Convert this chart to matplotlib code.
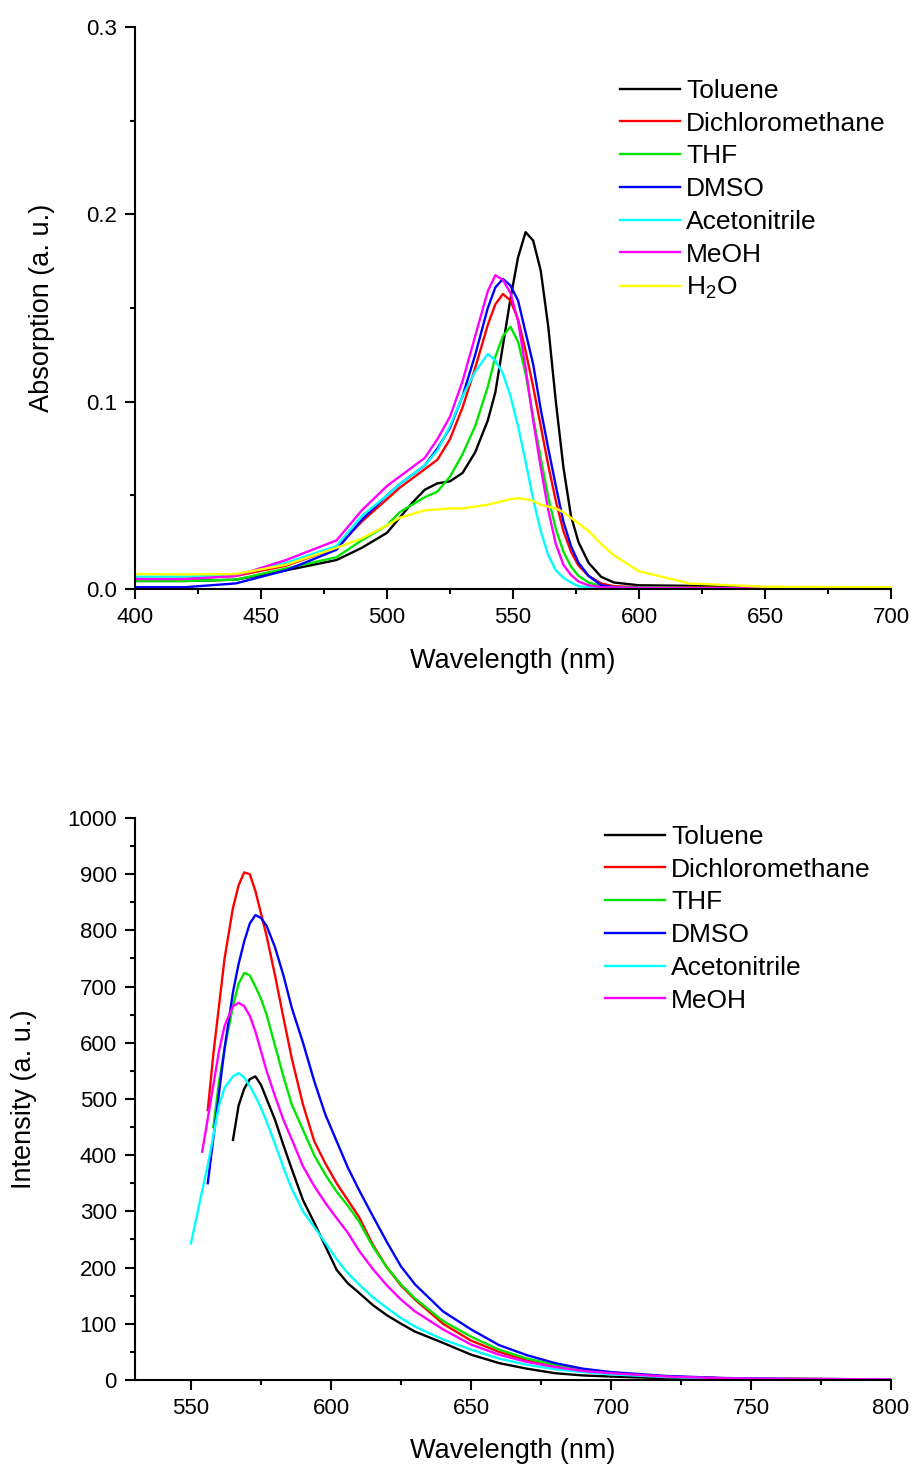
import numpy as np
import matplotlib
matplotlib.use("Agg")
import matplotlib.pyplot as plt
from matplotlib.ticker import MultipleLocator, FormatStrFormatter

plt.rcParams['font.family'] = ['Liberation Sans', 'DejaVu Sans']
plt.rcParams['mathtext.fontset'] = 'custom'
plt.rcParams['mathtext.rm'] = 'Liberation Sans'
plt.rcParams['mathtext.it'] = 'Liberation Sans:italic'

nan = float('nan')

# ---- absorption data ----
abs_wl = [400, 420, 440, 460, 480, 490, 500, 505, 510, 515, 520, 525, 530, 535,
          540, 543, 546, 549, 552, 555, 558, 561, 564, 567, 570, 573, 576, 580,
          585, 590, 600, 620, 650, 700]
abs_toluene = [.0043, .0043, .005, .010, .0155, .022, .030, .038, .046, .053, .0564,
               .0575, .062, .073, .090, .105, .130, .155, .177, .1905, .186, .170,
               .140, .100, .065, .039, .025, .014, .0065, .0035, .002, .0017, .001, .0005]
abs_dcm = [.0055, .0055, .007, .0125, .022, .036, .048, .054, .059, .064, .069,
           .080, .097, .118, .141, .152, .1575, .154, .144, .127, .108, .087,
           .066, .047, .031, .020, .0125, .007, .003, .0015, .001, .0008, .0005, .0003]
abs_thf = [.0043, .0043, .005, .011, .017, .026, .034, .041, .045, .049, .052,
           .060, .072, .087, .108, .124, .135, .140, .132, .115, .092, .070,
           .049, .032, .020, .012, .007, .0035, .0015, .001, .0008, .0006, .0005, .0003]
abs_dmso = [.001, .001, .003, .010, .021, .037, .050, .056, .061, .066, .075,
            .086, .103, .125, .150, .161, .1655, .162, .154, .137, .120, .096,
            .075, .055, .036, .023, .014, .007, .002, .001, .0005, .0004, .0003, .0002]
abs_mecn = [.0066, .0066, .0075, .014, .023, .039, .050, .056, .061, .066, .074,
            .087, .103, .116, .1255, .122, .115, .103, .087, .068, .048, .031,
            .018, .010, .006, .0035, .0015, .001, .0008, .0007, .0006, .0005, .0004, .0003]
abs_meoh = [.0053, .0053, .007, .0155, .026, .042, .055, .060, .065, .070, .080,
            .092, .111, .135, .159, .1675, .165, .158, .143, .118, .090, .065,
            .042, .024, .013, .0075, .004, .002, .001, .0008, .0006, .0005, .0004, .0003]
abs_water = [.008, .0078, .008, .013, .022, .027, .034, .038, .040, .042, .0425,
             .043, .043, .044, .045, .046, .047, .048, .0485, .048, .047, .045,
             .044, .043, .041, .038, .035, .031, .024, .018, .0095, .003, .0012, .001]

# ---- emission data ----
em_wl = [550, 554, 556, 558, 560, 562, 565, 567, 569, 571, 573, 575, 577, 580,
         583, 586, 590, 594, 598, 602, 606, 610, 615, 620, 625, 630, 640, 650,
         660, 670, 680, 690, 700, 720, 740, 760, 780, 800]
em_toluene = [nan, nan, nan, nan, nan, nan, 427, 488, 518, 535, 540, 525, 500, 463,
              418, 375, 320, 280, 238, 196, 172, 155, 133, 115, 100, 86, 66, 45,
              30, 20, 12, 8, 6, 3, 1.5, 1, 1, 0.5]
em_dcm = [nan, nan, 480, 580, 665, 750, 840, 880, 903, 900, 870, 830, 790, 720,
          645, 572, 490, 425, 385, 350, 320, 290, 240, 200, 168, 143, 100, 70,
          50, 35, 25, 17, 12, 6, 3, 2, 1.5, 1]
em_thf = [nan, nan, nan, 450, 530, 590, 665, 705, 724, 720, 700, 678, 650, 595,
          540, 490, 445, 400, 365, 335, 310, 282, 237, 200, 170, 145, 105, 77,
          54, 38, 27, 18, 12, 6, 3, 2, 1.5, 1]
em_dmso = [nan, nan, 350, 430, 510, 590, 690, 740, 780, 812, 827, 822, 808, 770,
           720, 662, 600, 532, 472, 425, 378, 338, 291, 245, 202, 170, 122, 90,
           62, 44, 30, 20, 14, 7, 3.5, 2, 1.5, 1]
em_mecn = [243, 337, 382, 435, 488, 520, 540, 546, 538, 523, 505, 484, 460, 420,
           378, 340, 300, 272, 244, 215, 190, 170, 147, 128, 110, 95, 72, 54,
           38, 27, 19, 14, 10, 5, 2.5, 1.5, 1, 1]
em_meoh = [nan, 406, 465, 525, 585, 630, 665, 671, 665, 648, 620, 585, 550, 505,
           463, 428, 380, 345, 315, 288, 262, 230, 197, 168, 143, 122, 90, 63,
           45, 32, 23, 16, 12, 6, 3, 2, 1.5, 1]

labels = ['Toluene', 'Dichloromethane', 'THF', 'DMSO', 'Acetonitrile', 'MeOH', 'H$_\\mathregular{2}$O']
colors = ['#000000', '#ff0000', '#00e600', '#0000ff', '#00ffff', '#ff00ff', '#ffff00']

abs_series = [abs_toluene, abs_dcm, abs_thf, abs_dmso, abs_mecn, abs_meoh, abs_water]
em_series = [em_toluene, em_dcm, em_thf, em_dmso, em_mecn, em_meoh]

fig = plt.figure(figsize=(9.12, 14.66), dpi=100)
ax1 = fig.add_axes([0.148, 0.5982, 0.829, 0.3834])
ax2 = fig.add_axes([0.148, 0.0587, 0.829, 0.3834])

for y, c, lab in zip(abs_series, colors, labels):
    ax1.plot(abs_wl, y, color=c, lw=1.7, label=lab)
for y, c, lab in zip(em_series, colors, labels):
    ax2.plot(em_wl, y, color=c, lw=1.7, label=lab)

ax1.set_xlim(400, 700)
ax1.set_ylim(0, 0.3)
ax1.xaxis.set_major_locator(MultipleLocator(50))
ax1.xaxis.set_minor_locator(MultipleLocator(25))
ax1.yaxis.set_major_locator(MultipleLocator(0.1))
ax1.yaxis.set_minor_locator(MultipleLocator(0.05))
ax1.yaxis.set_major_formatter(FormatStrFormatter('%.1f'))
ax1.set_ylabel('Absorption (a. u.)', fontsize=19.5, labelpad=22)

ax2.set_xlim(530, 800)
ax2.set_ylim(0, 1000)
ax2.xaxis.set_major_locator(MultipleLocator(50))
ax2.xaxis.set_minor_locator(MultipleLocator(25))
ax2.yaxis.set_major_locator(MultipleLocator(100))
ax2.yaxis.set_minor_locator(MultipleLocator(50))
ax2.set_ylabel('Intensity (a. u.)', fontsize=19.5, labelpad=22)

for ax in (ax1, ax2):
    ax.set_xlabel('Wavelength (nm)', fontsize=19.5, labelpad=14)
    for s in ('top', 'right'):
        ax.spines[s].set_visible(False)
    for s in ('left', 'bottom'):
        ax.spines[s].set_linewidth(1.5)
    ax.tick_params(which='major', direction='out', length=7, width=1.5, labelsize=16, pad=6)
    ax.tick_params(which='minor', direction='out', length=3.5, width=1.5)

leg_kw = dict(frameon=False, fontsize=19, handlelength=2.27, handletextpad=0.23,
              labelspacing=0.33, borderpad=0, borderaxespad=0, loc='upper left',
              bbox_transform=fig.transFigure)
ax1.legend(bbox_to_anchor=(620 / 912, 1 - 79 / 1466), **leg_kw)
ax2.legend(bbox_to_anchor=(605 / 912, 1 - 825 / 1466), **leg_kw)

fig.savefig('out.png', dpi=100)
